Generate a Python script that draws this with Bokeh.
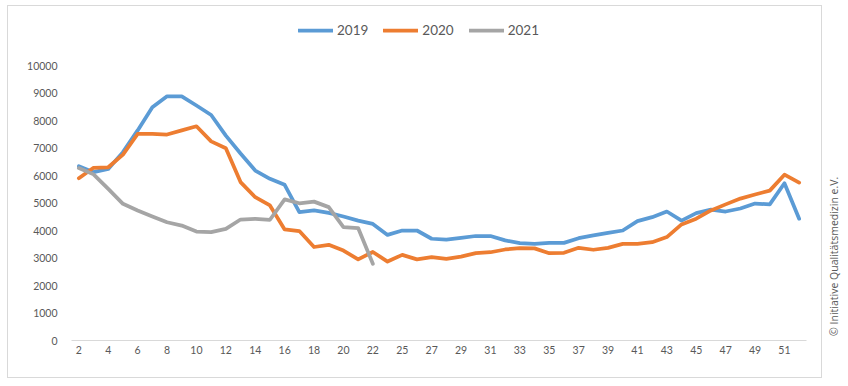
from math import pi
from bokeh.plotting import figure
from bokeh.models import Range1d, FixedTicker, Legend, LegendItem, Label
from bokeh.layouts import row
from bokeh.embed import file_html
from bokeh.resources import INLINE

# ---- data ----
weeks = [str(w) for w in list(range(2, 23)) + list(range(24, 53))]

y2019 = [6340, 6120, 6240, 6850, 7640, 8480, 8880, 8880, 8545, 8200, 7450, 6800,
         6180, 5880, 5660, 4670, 4730, 4640, 4510, 4360, 4240,
         3840, 4000, 4000, 3700, 3670, 3730, 3800, 3800, 3640, 3540, 3510, 3550,
         3550, 3720, 3820, 3915, 4000, 4340, 4485, 4690, 4360, 4630, 4760, 4690,
         4800, 4980, 4950, 5720, 4430]

y2020 = [5900, 6280, 6300, 6760, 7510, 7510, 7490, 7640, 7790, 7240, 6990, 5760,
         5210, 4910, 4040, 3980, 3400, 3480, 3270, 2950, 3220,
         2870, 3115, 2950, 3030, 2970, 3050, 3175, 3210, 3310, 3360, 3350, 3175,
         3190, 3370, 3300, 3370, 3515, 3515, 3575, 3760, 4220, 4430, 4730, 4950,
         5160, 5310, 5450, 6030, 5740]

y2021 = [6270, 6040, 5515, 4970, 4730, 4510, 4300, 4180, 3960, 3940, 4060, 4400,
         4420, 4390, 5130, 4990, 5050, 4850, 4120, 4090, 2790]

series_names = ["2019", "2020", "2021"]
colors = ["#5B9BD5", "#ED7D31", "#A5A5A5"]
y_ticks = list(range(0, 10001, 1000))
copyright_text = "© Initiative Qualitätsmedizin e.V."

# category positions (one slot per week)
pos = list(range(len(weeks)))
label_pos = pos[::2]

# ---- main chart ----
p = figure(width=815, height=373,
           x_range=Range1d(-0.5, len(weeks) - 0.5),
           y_range=Range1d(0, 11782),
           output_backend="svg", toolbar_location=None,
           min_border_left=63, min_border_right=17,
           min_border_top=10, min_border_bottom=39)
p.styles = {"border": "1px solid #D9D9D9"}
p.outline_line_color = None
p.grid.visible = False
p.background_fill_color = "white"
p.border_fill_color = "white"

r1 = p.line(pos, y2019, line_color=colors[0], line_width=3.75,
            line_join="round", line_cap="round")
r2 = p.line(pos, y2020, line_color=colors[1], line_width=3.75,
            line_join="round", line_cap="round")
r3 = p.line(pos[:len(y2021)], y2021, line_color=colors[2], line_width=3.75,
            line_join="round", line_cap="round")

# x axis
xa = p.xaxis[0]
xa.ticker = FixedTicker(ticks=label_pos)
xa.major_label_overrides = {i: weeks[i] for i in label_pos}
xa.axis_line_color = "#D9D9D9"
xa.axis_line_width = 1
xa.major_tick_line_color = None
xa.minor_tick_line_color = None
xa.major_tick_out = 0
xa.major_label_text_font = "Lato"
xa.major_label_text_font_size = "10.5px"
xa.major_label_text_color = "#595959"
xa.major_label_standoff = 5

# y axis
ya = p.yaxis[0]
ya.ticker = FixedTicker(ticks=y_ticks)
ya.axis_line_color = None
ya.major_tick_line_color = None
ya.minor_tick_line_color = None
ya.major_tick_out = 0
ya.major_label_text_font = "Lato"
ya.major_label_text_font_size = "10.5px"
ya.major_label_text_color = "#595959"
ya.major_label_standoff = 14

legend = Legend(items=[LegendItem(label=series_names[0], renderers=[r1]),
                       LegendItem(label=series_names[1], renderers=[r2]),
                       LegendItem(label=series_names[2], renderers=[r3])],
                orientation="horizontal", location=(227, 302),
                padding=0, margin=0, spacing=15,
                glyph_width=35, glyph_height=16, label_height=16,
                label_standoff=4, border_line_color=None,
                background_fill_alpha=0,
                label_text_font="Lato", label_text_font_size="13.5px",
                label_text_color="#595959", label_text_baseline="middle")
p.add_layout(legend)

# ---- copyright strip ----
p2 = figure(width=22, height=375, x_range=Range1d(0, 22), y_range=Range1d(0, 375),
            x_axis_location=None, y_axis_location=None,
            output_backend="svg", toolbar_location=None, min_border=0)
p2.grid.visible = False
p2.outline_line_color = None
p2.add_layout(Label(x=11, y=98, text=copyright_text, angle=pi / 2,
                    text_align="center", text_baseline="middle",
                    text_font="Open Sans", text_font_size="10.5px",
                    text_color="#595959"))

layout = row(p, p2)
layout.margin = (5, 0, 0, 7)
open("out.html", "w").write(file_html(layout, INLINE))
